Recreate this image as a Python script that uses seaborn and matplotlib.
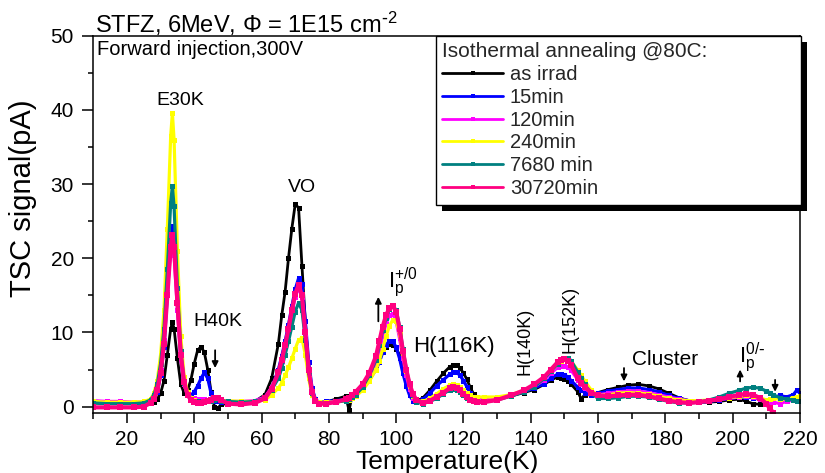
import numpy as np
import pandas as pd
import matplotlib
matplotlib.use("Agg")
import matplotlib.pyplot as plt
from matplotlib.lines import Line2D
from matplotlib.patches import Rectangle
from matplotlib.ticker import MultipleLocator
import seaborn as sns

sns.set_theme(style="ticks")
plt.rcParams["font.family"] = ["Liberation Sans", "DejaVu Sans"]
plt.rcParams["mathtext.default"] = "regular"

# Temperature grid (K) shared by all TSC spectra
temperature_K = [
    10, 14, 18, 22, 25,
    27, 28, 29, 30, 31, 32, 33, 33.5, 34, 35, 36, 37, 38, 39, 40, 41, 42, 43, 44, 45, 46, 47, 48,
    50, 54, 58, 61, 63,
    65, 66, 67, 68, 69, 70, 71, 72, 73, 74, 75, 76, 77,
    79, 82, 85, 86, 87, 88, 90, 92, 94,
    95, 96, 97, 98, 99, 100, 101, 102, 103, 104, 105, 106,
    108, 110, 112, 114, 116, 117, 118, 119, 120, 121, 122, 123, 124,
    126, 130, 134, 138, 141, 144, 146, 148, 149, 150, 151, 152, 154, 155, 156, 158,
    160, 163, 166, 169, 172, 175, 178, 181, 184, 187, 190,
    193, 196, 199, 202, 204, 206, 208, 210, 211, 212, 214, 216, 218, 219, 220,
]

# TSC signal (pA) after each annealing step at 80C
as_irrad = [
    0.5, 0.4, 0.4, 0.4, 0.5,
    0.5, 0.6, 1.0, 1.8, 3.5, 7.0, 10.5, 11.4, 10.5, 6.5, 3.0, 1.8, 2.2, 3.6, 5.8, 7.6, 8.1, 7.3, 5.0, 2.0, 0.0, -0.2, 0.3,
    0.4, 0.5, 0.7, 1.6, 3.8,
    8.5, 12.3, 15.5, 20.0, 24.0, 27.3, 26.8, 19.0, 11.5, 5.0, 2.0, 0.8, 0.5,
    0.6, 1.0, 1.4, -0.5, 1.7, 2.0, 2.6, 4.0, 5.4,
    6.3, 7.3, 8.0, 8.4, 8.3, 7.8, 7.0, 5.3, 3.9, 2.3, 1.1, 0.7,
    1.2, 2.2, 3.4, 4.5, 5.4, 5.6, 5.6, 5.2, 4.5, 3.7, 2.6, 1.7, 1.0,
    0.8, 1.0, 1.4, 1.9, 2.3, 3.0, 3.6, 4.0, 3.9, 3.7, 3.4, 3.0, 2.0, 1.0, 1.6, 1.6,
    1.9, 2.3, 2.6, 2.9, 3.0, 2.8, 2.4, 1.8, 1.2, 0.8, 0.6,
    0.6, 0.7, 0.9, 1.0, 0.7, 0.4, 0.3, 0.5, 0.8, 1.0, 1.2, 1.0, 1.2, 1.3, 1.3,
]
ann_15min = [
    0.6, 0.5, 0.5, 0.5, 0.5,
    0.6, 1.0, 2.0, 4.2, 8.0, 15.0, 22.5, 24.3, 22.5, 14.0, 6.5, 3.0, 1.6, 1.5, 2.0, 2.8, 3.8, 4.6, 3.8, 1.8, 0.8, 0.7, 0.6,
    0.6, 0.6, 0.7, 1.2, 2.5,
    5.0, 6.8, 8.8, 11.0, 13.5, 15.8, 17.3, 16.5, 11.5, 6.0, 2.5, 1.0, 0.6,
    0.7, 0.8, 1.0, 1.2, 1.4, 1.7, 2.5, 3.6, 5.0,
    6.0, 7.3, 8.3, 8.9, 8.8, 8.0, 6.5, 4.5, 2.8, 1.5, 0.8, 0.6,
    1.0, 1.8, 2.8, 3.6, 4.4, 4.6, 4.6, 4.2, 3.5, 2.7, 1.8, 1.0, 0.8,
    0.8, 1.0, 1.5, 2.0, 2.5, 3.1, 3.8, 4.4, 4.4, 4.3, 4.0, 3.5, 2.6, 2.2, 1.9, 1.6,
    1.8, 2.1, 2.3, 2.5, 2.5, 2.3, 2.0, 1.5, 1.1, 0.8, 0.6,
    0.7, 0.9, 1.1, 1.3, 1.3, 1.2, 1.0, 0.8, 1.0, 1.2, 1.5, 1.3, 1.6, 2.2, 1.8,
]
ann_120min = [
    0.8, 0.7, 0.7, 0.6, 0.6,
    0.8, 1.4, 2.6, 5.0, 9.0, 15.5, 21.0, 22.0, 20.5, 13.0, 6.5, 3.0, 1.5, 1.2, 1.1, 1.0, 1.0, 1.0, 0.9, 0.9, 1.0, 1.1, 0.9,
    0.7, 0.7, 0.8, 1.3, 2.6,
    4.5, 6.1, 8.0, 10.2, 12.6, 14.8, 16.0, 14.8, 9.8, 5.0, 2.0, 0.9, 0.6,
    0.6, 0.7, 0.9, 1.1, 1.4, 1.7, 2.6, 4.0, 5.8,
    7.5, 9.5, 11.2, 12.3, 12.5, 11.5, 9.2, 6.5, 4.2, 2.4, 1.2, 0.7,
    0.6, 1.0, 1.6, 2.2, 2.7, 2.8, 2.7, 2.4, 2.0, 1.6, 1.3, 1.1, 1.0,
    0.9, 1.1, 1.5, 2.1, 2.7, 3.6, 4.5, 5.3, 5.5, 5.5, 5.3, 4.9, 3.6, 3.0, 2.5, 1.8,
    1.6, 1.8, 2.0, 2.1, 2.1, 1.9, 1.6, 1.3, 1.0, 0.8, 0.7,
    0.8, 1.0, 1.1, 1.3, 1.4, 1.3, 1.0, 0.7, 0.5, 0.6, 0.4, 0.7, 0.9, 1.0, 1.0,
]
ann_240min = [
    0.7, 0.6, 0.6, 0.6, 0.7,
    1.0, 1.8, 3.5, 7.0, 13.0, 24.0, 36.5, 39.6, 36.0, 21.0, 9.5, 4.0, 2.0, 1.2, 0.9, 0.8, 0.7, 0.7, 0.7, 0.8, 0.9, 1.0, 0.8,
    0.8, 0.7, 0.7, 0.9, 1.6,
    2.5, 3.2, 4.2, 5.3, 6.5, 7.8, 9.0, 9.2, 7.0, 3.8, 1.5, 0.7, 0.6,
    0.6, 0.6, 0.8, 0.9, 1.1, 1.4, 2.2, 3.4, 5.0,
    6.2, 7.8, 9.5, 10.9, 11.7, 11.5, 9.8, 7.2, 4.8, 2.8, 1.4, 0.8,
    0.7, 1.1, 1.7, 2.4, 2.9, 3.0, 2.9, 2.6, 2.2, 1.8, 1.5, 1.3, 1.3,
    1.3, 1.3, 1.6, 2.2, 2.9, 3.9, 4.8, 5.8, 6.2, 6.4, 6.4, 6.1, 4.9, 4.2, 3.5, 2.2,
    1.5, 1.6, 1.8, 1.9, 1.8, 1.7, 1.4, 1.1, 0.9, 0.8, 0.8,
    0.9, 1.0, 1.2, 1.4, 1.5, 1.4, 1.2, 0.9, 1.0, 1.1, 1.0, 1.0, 1.2, 1.3, 1.4,
]
ann_7680min = [
    0.5, 0.4, 0.4, 0.4, 0.5,
    0.9, 1.6, 3.0, 5.8, 10.5, 18.5, 27.5, 29.7, 27.0, 16.0, 7.5, 3.2, 1.6, 1.0, 0.8, 0.7, 0.7, 0.7, 0.7, 0.8, 0.9, 1.0, 0.8,
    0.7, 0.6, 0.7, 1.1, 2.3,
    3.8, 5.2, 7.0, 8.8, 10.8, 12.8, 14.0, 13.0, 9.0, 4.6, 1.8, 0.7, 0.5,
    0.5, 0.6, 0.8, 1.0, 1.3, 1.6, 2.6, 4.2, 6.3,
    8.3, 10.3, 12.0, 13.1, 13.5, 13.0, 10.8, 7.8, 5.1, 3.0, 1.5, 0.6,
    0.4, 0.7, 1.1, 1.7, 2.3, 2.4, 2.3, 2.0, 1.6, 1.2, 0.9, 0.7, 0.6,
    0.6, 0.9, 1.4, 2.0, 2.7, 3.8, 4.8, 5.8, 6.3, 6.6, 6.6, 6.2, 4.6, 3.8, 3.0, 1.8,
    1.1, 1.1, 1.2, 1.4, 1.4, 1.3, 1.0, 0.7, 0.5, 0.5, 0.6,
    0.9, 1.3, 1.8, 2.2, 2.5, 2.6, 2.5, 2.1, 1.9, 1.6, 1.2, 1.0, 0.9, 0.8, 0.8,
]
ann_30720min = [
    -0.1, -0.1, -0.1, -0.1, 0.0,
    0.5, 1.0, 2.2, 4.5, 8.5, 15.0, 21.5, 23.1, 21.5, 14.0, 7.0, 3.3, 1.6, 0.9, 0.6, 0.5, 0.5, 0.6, 0.7, 0.9, 1.1, 1.2, 0.9,
    0.4, 0.3, 0.5, 1.1, 2.4,
    4.6, 6.3, 8.3, 10.5, 13.0, 15.2, 16.4, 15.0, 10.0, 5.0, 2.0, 0.8, 0.4,
    0.4, 0.6, 1.0, 1.2, 1.6, 2.0, 3.0, 4.5, 6.8,
    8.8, 10.8, 12.3, 13.3, 13.6, 12.8, 10.5, 7.5, 5.0, 3.0, 1.7, 0.9,
    0.5, 0.8, 1.3, 1.9, 2.5, 2.6, 2.5, 2.2, 1.7, 1.3, 0.9, 0.7, 0.6,
    0.6, 0.9, 1.5, 2.2, 3.0, 4.0, 5.0, 6.0, 6.3, 6.4, 6.2, 5.6, 3.8, 3.2, 2.7, 1.9,
    1.5, 1.4, 1.5, 1.6, 1.6, 1.4, 1.1, 0.8, 0.6, 0.5, 0.6,
    0.8, 1.0, 1.3, 1.6, 1.7, 1.6, 1.2, 0.4, -0.2, -0.8, np.nan, np.nan, np.nan, np.nan, np.nan,
]

series_labels = ["as irrad", "15min", "120min", "240min", "7680 min", "30720min"]
series_values = [as_irrad, ann_15min, ann_120min, ann_240min, ann_7680min, ann_30720min]
series_colors = ["#000000", "#0000FF", "#FF00FF", "#FFFF00", "#008080", "#FF0080"]
line_widths = [2.0, 2.3, 2.3, 2.3, 2.3, 3.0]
marker_sizes = [3.6, 3.6, 3.6, 3.6, 3.6, 5.0]

fig = plt.figure(figsize=(8.25, 4.73), dpi=100)
fig.patch.set_facecolor("white")
W, H = 825, 473
ax_l, ax_r, ax_t, ax_b = 93.3, 800.0, 35.7, 413.3
ax = fig.add_axes([ax_l / W, 1 - ax_b / H, (ax_r - ax_l) / W, (ax_b - ax_t) / H])
ax.set_facecolor("white")

for label, vals, col, lw, ms in zip(series_labels, series_values, series_colors,
                                    line_widths, marker_sizes):
    d = pd.DataFrame({"T": temperature_K, "TSC": vals}).dropna()
    sns.lineplot(data=d, x="T", y="TSC", ax=ax, color=col, lw=lw,
                 marker="s", markersize=ms, markeredgewidth=0,
                 markeredgecolor=col, estimator=None, sort=False, legend=False)

ax.set_xlim(10, 220)
ax.set_ylim(-0.9, 50)
ax.xaxis.set_major_locator(MultipleLocator(20))
ax.xaxis.set_minor_locator(MultipleLocator(10))
ax.yaxis.set_major_locator(MultipleLocator(10))
ax.yaxis.set_minor_locator(MultipleLocator(5))
ax.tick_params(axis="x", which="major", direction="out", length=7, width=1.1,
               pad=5, labelsize=15, color="black", labelcolor="black")
ax.tick_params(axis="x", which="minor", direction="out", length=4.3, width=1.1, color="black")
ax.tick_params(axis="y", which="major", direction="out", length=8, width=1.1,
               pad=6, labelsize=15, color="black", labelcolor="black")
ax.tick_params(axis="y", which="minor", direction="out", length=3.6, width=1.1, color="black")
for sp in ax.spines.values():
    sp.set_visible(True)
    sp.set_color("black")
    sp.set_linewidth(1.1)

ax.set_xlabel("Temperature(K)", fontsize=19, color="black", labelpad=1)
ax.set_ylabel("TSC signal(pA)", fontsize=21, color="black")
ax.yaxis.set_label_coords(-0.08, 0.57)

# Title and measurement condition
ax.text(0.003, 1.007, "STFZ, 6MeV, \u03a6 = 1E15 cm$^{\\text{-}2}$", transform=ax.transAxes,
        ha="left", va="baseline", fontsize=17, color="black")
ax.text(0.005, 0.949, "Forward injection,300V", transform=ax.transAxes,
        ha="left", va="baseline", fontsize=14.5, color="black")

# Peak labels
txt = dict(color="black")
ax.text(35.8, 41.3, "E30K", ha="center", va="center", fontsize=14, **txt)
ax.text(47.1, 11.5, "H40K", ha="center", va="center", fontsize=14, **txt)
ax.text(71.9, 29.6, "VO", ha="center", va="center", fontsize=14, **txt)
ax.text(97.6, 16.1, r"$I_p^{+/0}$", ha="left", va="baseline", fontsize=16, **txt)
ax.text(105.0, 8.1, "H(116K)", ha="left", va="center", fontsize=16, **txt)
ax.text(138.3, 8.8, "H(140K)", ha="center", va="center", rotation=90, fontsize=13, **txt)
ax.text(151.7, 11.7, "H(152K)", ha="center", va="center", rotation=90, fontsize=13, **txt)
ax.text(170.0, 6.3, "Cluster", ha="left", va="center", fontsize=15, **txt)
ax.text(201.9, 6.0, r"$I_p^{0/\text{-}}$", ha="left", va="baseline", fontsize=16, **txt)

# Arrows marking growth / decay of the levels
arrow_kw = dict(arrowstyle="-|>", color="black", lw=1.3, mutation_scale=9,
                shrinkA=0, shrinkB=0)
for (x0, y0, y1) in [(46.2, 7.6, 5.2), (94.7, 11.5, 14.8), (167.7, 5.2, 3.4),
                     (202.2, 3.4, 5.0), (212.6, 3.6, 2.0)]:
    ax.annotate("", xy=(x0, y1), xytext=(x0, y0), arrowprops=arrow_kw)

# Legend
handles = [Line2D([0], [0], color=c, lw=2, marker="s", markersize=3.5,
                  markeredgewidth=0) for c in series_colors]
leg_x0 = (436 - ax_l) / (ax_r - ax_l)
leg_w = (801 - 436) / (ax_r - ax_l)
leg = ax.legend(handles, series_labels, title="Isothermal annealing @80C:",
                loc="upper left", bbox_to_anchor=(leg_x0, 1.0, leg_w, 0.0),
                mode="expand", borderaxespad=0, fontsize=14.5, title_fontsize=15,
                frameon=True, fancybox=False, framealpha=1, edgecolor="black",
                facecolor="white", handlelength=3.0, handletextpad=0.35,
                labelspacing=0.19, borderpad=0.32, alignment="left")
leg.get_frame().set_linewidth(1.0)
leg.set_zorder(6)

# Solid drop shadow under the legend box
fig.canvas.draw()
bb = leg.get_window_extent().transformed(ax.transAxes.inverted())
dx = 6 / (ax_r - ax_l)
dy = 6 / (ax_b - ax_t)
ax.add_patch(Rectangle((bb.x0 + dx, bb.y0 - dy), bb.width, bb.height,
                       transform=ax.transAxes, facecolor="black", edgecolor="none",
                       clip_on=False, zorder=5.9))

fig.savefig("out.png", dpi=100, facecolor="white")
